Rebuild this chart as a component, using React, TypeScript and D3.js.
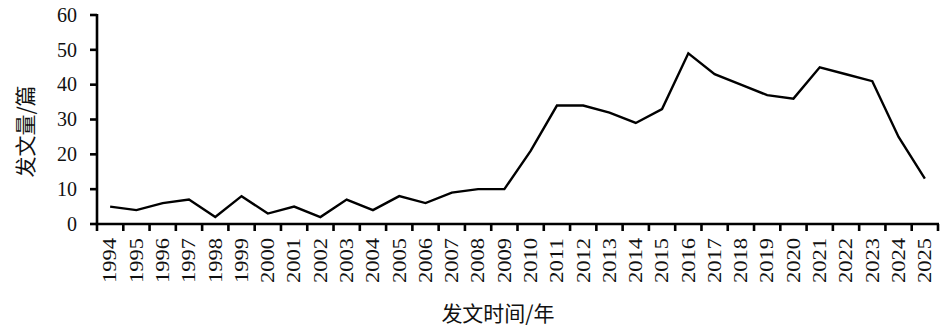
import React, { useEffect, useRef } from "react";
import * as d3 from "d3";

const years: string[] = [
  "1994", "1995", "1996", "1997", "1998", "1999", "2000", "2001", "2002", "2003", "2004",
  "2005", "2006", "2007", "2008", "2009", "2010", "2011", "2012", "2013", "2014", "2015",
  "2016", "2017", "2018", "2019", "2020", "2021", "2022", "2023", "2024", "2025",
];
const counts: number[] = [
  5, 4, 6, 7, 2, 8, 3, 5, 2, 7, 4, 8, 6, 9, 10, 10, 21, 34, 34, 32, 29, 33, 49, 43, 40, 37, 36, 45, 43, 41, 25, 13,
];
const yTicks: number[] = [0, 10, 20, 30, 40, 50, 60];
const yTitle = "发文量/篇";
const xTitle = "发文时间/年";

const W = 945;
const H = 327;
const left = 97;
const right = 938;
const top = 15;
const bottom = 224;

export default function App() {
  const ref = useRef<SVGSVGElement>(null);

  useEffect(() => {
    const svg = d3.select(ref.current);
    svg.selectAll("*").remove();

    const x = d3.scaleBand<string>().domain(years).range([left, right]).paddingInner(0).paddingOuter(0);
    const y = d3.scaleLinear().domain([0, 60]).range([bottom, top]);

    const font = "'Liberation Serif', 'Times New Roman', serif";

    // Y axis
    const gy = svg.append("g").attr("transform", `translate(${left},0)`);
    gy.append("line")
      .attr("x1", 0).attr("x2", 0)
      .attr("y1", y(60) - 1).attr("y2", y(0) + 1)
      .attr("stroke", "#000").attr("stroke-width", 2.6);
    yTicks.forEach((t) => {
      gy.append("line")
        .attr("x1", -7).attr("x2", 0)
        .attr("y1", y(t)).attr("y2", y(t))
        .attr("stroke", "#000").attr("stroke-width", 2.6);
      gy.append("text")
        .attr("x", -20)
        .attr("y", y(t))
        .attr("dy", "0.34em")
        .attr("text-anchor", "end")
        .attr("font-family", font)
        .attr("font-size", 20)
        .attr("fill", "#111")
        .text(String(t));
    });

    // X axis
    const gx = svg.append("g").attr("transform", `translate(0,${bottom})`);
    gx.append("line")
      .attr("x1", left - 1.3).attr("x2", right + 1)
      .attr("y1", 0).attr("y2", 0)
      .attr("stroke", "#000").attr("stroke-width", 2.6);
    const bounds = years.map((d) => x(d) as number).concat([right]);
    bounds.forEach((bx) => {
      gx.append("line")
        .attr("x1", bx).attr("x2", bx)
        .attr("y1", 0).attr("y2", 7)
        .attr("stroke", "#000").attr("stroke-width", 2.6);
    });
    years.forEach((d) => {
      const cx = (x(d) as number) + x.bandwidth() / 2;
      gx.append("text")
        .attr("transform", `translate(${cx},14) rotate(-90)`)
        .attr("text-anchor", "end")
        .attr("dy", "0.35em")
        .attr("font-family", font)
        .attr("font-size", 18)
        .attr("textLength", 45)
        .attr("lengthAdjust", "spacingAndGlyphs")
        .attr("fill", "#111")
        .text(d);
    });

    // line
    const line = d3.line<number>()
      .x((_, i) => (x(years[i]) as number) + x.bandwidth() / 2)
      .y((v) => y(v));
    svg.append("path")
      .datum(counts)
      .attr("d", line)
      .attr("fill", "none")
      .attr("stroke", "#000")
      .attr("stroke-width", 2.4)
      .attr("stroke-linejoin", "miter");

    // titles
    svg.append("text")
      .attr("transform", `translate(33,${(top + bottom) / 2 + 12}) rotate(-90)`)
      .attr("text-anchor", "middle")
      .attr("font-family", "'Noto Sans CJK SC', sans-serif")
      .attr("font-size", 21)
      .attr("fill", "#111")
      .text(yTitle);
    svg.append("text")
      .attr("x", 498)
      .attr("y", 321)
      .attr("text-anchor", "middle")
      .attr("font-family", "'Noto Sans CJK SC', sans-serif")
      .attr("font-size", 21)
      .attr("fill", "#111")
      .text(xTitle);
  }, []);

  return (
    <svg
      ref={ref}
      width={W}
      height={H}
      style={{ position: "absolute", left: 0, top: 0, background: "#fff" }}
    />
  );
}
